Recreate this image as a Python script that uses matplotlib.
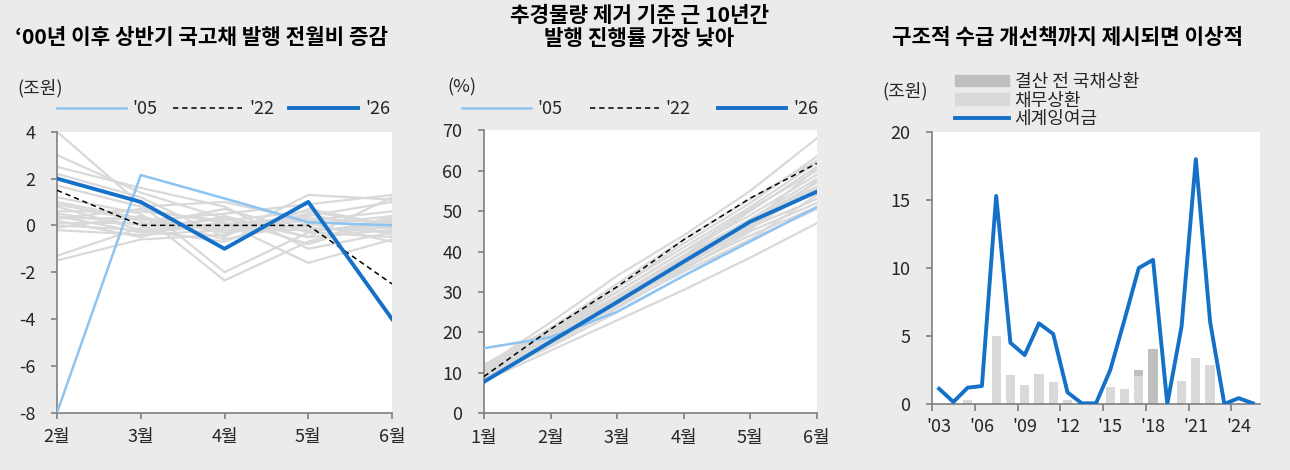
import matplotlib
matplotlib.use("Agg")
import matplotlib.pyplot as plt
from matplotlib.patches import Patch
from matplotlib.ticker import FixedLocator

plt.rcParams['font.family'] = ['Noto Sans CJK KR', 'DejaVu Sans']
plt.rcParams['axes.unicode_minus'] = False

# ---------------- data ----------------
# Panel 1: month-over-month change in H1 treasury issuance (trillion won)
p1_months = ['2월', '3월', '4월', '5월', '6월']
p1_05 = [-8.0, 2.15, 1.15, 0.13, 0.0]
p1_22 = [1.5, 0.0, 0.0, 0.0, -2.5]
p1_26 = [2.0, 1.0, -1.0, 1.0, -4.0]
p1_other = [
    [4.0, 0.9, -2.0, -0.3, 0.2],
    [3.0, 1.4, 0.3, -0.5, 1.2],
    [2.5, 1.6, 0.8, -1.0, -0.3],
    [2.2, 1.2, -0.5, 1.3, 1.1],
    [1.7, 0.8, 1.0, 0.2, -0.1],
    [1.2, 0.5, -2.35, -0.7, 0.4],
    [0.9, 0.2, 0.5, 0.9, 1.3],
    [0.6, 0.6, 0.2, 0.6, 0.0],
    [0.5, 0.0, 0.7, -0.3, -0.5],
    [0.4, -0.3, 0.0, 0.4, 1.0],
    [0.3, 0.3, -0.3, 0.0, 0.4],
    [0.2, -0.5, 0.4, -0.5, -0.2],
    [0.1, 0.1, -0.1, 0.3, 0.1],
    [0.0, -0.2, 0.1, -1.6, -0.6],
    [-0.1, 0.4, -0.6, 0.1, -0.7],
    [-0.2, -0.4, -0.2, -0.2, -0.1],
    [-1.3, -0.1, 0.3, -0.8, 0.3],
    [-1.5, -0.6, -0.4, 0.5, -0.4],
    [0.8, -0.2, -0.7, 0.7, 0.0],
    [0.3, 0.7, 0.1, -0.1, -0.3],
    [1.0, 0.3, -0.2, 0.2, 0.6],
]

# Panel 2: cumulative issuance progress rate (%)
p2_months = ['1월', '2월', '3월', '4월', '5월', '6월']
p2_05 = [16.1, 18.8, 25.1, 34.0, 42.5, 51.0]
p2_22 = [9.1, 20.8, 31.3, 42.9, 53.2, 61.8]
p2_26 = [7.8, 17.7, 27.5, 37.5, 47.4, 54.8]
p2_other = [
    [11.5, 22.5, 34.0, 44.0, 55.0, 68.0],
    [10.0, 20.0, 31.0, 42.0, 52.0, 63.5],
    [12.0, 21.0, 32.0, 43.0, 53.0, 62.5],
    [9.5, 19.0, 29.0, 39.0, 50.0, 61.0],
    [10.5, 20.0, 30.0, 40.0, 50.5, 60.0],
    [9.0, 18.5, 29.0, 38.5, 48.0, 58.0],
    [10.0, 19.5, 28.5, 38.0, 47.5, 57.0],
    [8.5, 17.5, 27.0, 37.0, 46.0, 55.5],
    [11.0, 19.0, 28.0, 37.5, 46.0, 53.0],
    [9.0, 17.0, 26.0, 35.5, 45.0, 52.0],
    [8.0, 15.5, 23.0, 30.5, 38.5, 47.0],
    [9.5, 18.0, 27.0, 36.0, 44.0, 51.0],
    [10.0, 18.0, 26.5, 35.0, 43.0, 54.0],
    [11.0, 20.5, 30.0, 40.0, 49.0, 59.0],
    [8.5, 16.5, 25.0, 34.0, 43.0, 50.5],
    [12.0, 20.0, 29.0, 39.0, 48.0, 56.0],
    [10.5, 19.0, 27.5, 36.5, 45.5, 57.5],
    [9.0, 18.0, 28.0, 38.0, 47.0, 60.5],
    [11.0, 21.0, 31.0, 41.0, 51.0, 62.0],
    [10.0, 19.0, 28.0, 37.0, 46.5, 56.0],
]

# Panel 3: fiscal surplus and its use (trillion won), 2003-2025
p3_years = list(range(2003, 2026))
p3_tick_labels = ["'03", "'06", "'09", "'12", "'15", "'18", "'21", "'24"]
p3_debt_repay = [0, 0, 0.32, 0, 5.02, 2.16, 1.40, 2.2, 1.6, 0.3, 0, 0,
                 1.25, 1.13, 2.03, 0, 0, 1.72, 3.36, 2.84, 0, 0, 0]
p3_early_repay = [0, 0, 0, 0, 0, 0, 0, 0, 0, 0, 0, 0,
                  0, 0, 0.49, 4.02, 0, 0, 0, 0, 0, 0, 0]
p3_surplus = [1.12, 0.15, 1.2, 1.32, 15.3, 4.5, 3.6, 5.93, 5.15, 0.86, 0.05, 0.05,
              2.5, 6.2, 10.0, 10.6, 0.0, 5.7, 18.0, 6.05, 0.0, 0.43, 0.05]

# ---------------- style ----------------
BG = '#EBEBEB'
GRAY_LINE = '#D9D9D9'
LIGHT_BLUE = '#8DC4F2'
BLUE = '#1570C8'
SPINE = '#7F7F7F'
TEXT = '#262626'
FS = 13
TITLE_FS = 15.3

W, H = 1290, 470
fig = plt.figure(figsize=(W / 100, H / 100), dpi=100, facecolor=BG)


def fx(px):
    return px / W


def fy(px):
    return (H - px) / H


def style_axes(ax, ypad=11.5, xpad=7):
    ax.set_facecolor('white')
    for s in ('top', 'right'):
        ax.spines[s].set_visible(False)
    for s in ('left', 'bottom'):
        ax.spines[s].set_color(SPINE)
        ax.spines[s].set_linewidth(1.2)
    ax.tick_params(axis='y', direction='out', length=4, width=1.2, color=SPINE,
                   labelsize=FS, labelcolor=TEXT, pad=ypad)
    ax.tick_params(axis='x', direction='out', length=4, width=1.2, color=SPINE,
                   labelsize=FS, labelcolor=TEXT, pad=xpad)


# Panel 1
ax1 = fig.add_axes([fx(57), fy(412.7), fx(335), 281 / H])
style_axes(ax1)
x1 = list(range(len(p1_months)))
for row in p1_other:
    ax1.plot(x1, row, color=GRAY_LINE, lw=1.6, zorder=1)
l05, = ax1.plot(x1, p1_05, color=LIGHT_BLUE, lw=1.8, zorder=3, label="'05")
l22, = ax1.plot(x1, p1_22, color='black', lw=1.1, ls=(0, (3.5, 2.5)), zorder=3, label="'22")
l26, = ax1.plot(x1, p1_26, color=BLUE, lw=2.8, zorder=4, label="'26")
ax1.set_xlim(0, len(p1_months) - 1)
ax1.set_ylim(-8, 4)
ax1.set_yticks(range(-8, 5, 2))
ax1.set_xticks(x1)
ax1.set_xticklabels(p1_months)
ax1.legend(handles=[l05, l22, l26], ncol=3, loc='center left',
           bbox_to_anchor=(fx(57), fy(109)), bbox_transform=fig.transFigure,
           frameon=False, fontsize=FS, handlelength=3.8, handletextpad=0.4,
           columnspacing=0.85, borderaxespad=0, borderpad=0, labelcolor=TEXT)
fig.text(fx(17), fy(88), '(조원)', fontsize=FS, color=TEXT, va='center', ha='left')
fig.text(fx(15), fy(37), '‘00년 이후 상반기 국고채 발행 전월비 증감',
         fontsize=TITLE_FS, fontweight='bold', color='black', va='center', ha='left')

# Panel 2
ax2 = fig.add_axes([fx(484), fy(413.3), fx(332.7), 283 / H])
style_axes(ax2)
x2 = list(range(len(p2_months)))
for row in p2_other:
    ax2.plot(x2, row, color=GRAY_LINE, lw=1.6, zorder=1)
m05, = ax2.plot(x2, p2_05, color=LIGHT_BLUE, lw=1.8, zorder=3, label="'05")
m22, = ax2.plot(x2, p2_22, color='black', lw=1.1, ls=(0, (3.5, 2.5)), zorder=3, label="'22")
m26, = ax2.plot(x2, p2_26, color=BLUE, lw=2.8, zorder=4, label="'26")
ax2.set_xlim(0, len(p2_months) - 1)
ax2.set_ylim(0, 70)
ax2.set_yticks(range(0, 71, 10))
ax2.set_xticks(x2)
ax2.set_xticklabels(p2_months)
ax2.legend(handles=[m05, m22, m26], ncol=3, loc='center left',
           bbox_to_anchor=(fx(462), fy(109)), bbox_transform=fig.transFigure,
           frameon=False, fontsize=FS, handlelength=3.8, handletextpad=0.4,
           columnspacing=1.5, borderaxespad=0, borderpad=0, labelcolor=TEXT)
fig.text(fx(447), fy(87), '(%)', fontsize=FS, color=TEXT, va='center', ha='left')
fig.text(fx(639), fy(27), '추경물량 제거 기준 근 10년간\n발행 진행률 가장 낮아',
         fontsize=TITLE_FS, fontweight='bold', color='black', va='center', ha='center',
         linespacing=1.1)

# Panel 3
ax3 = fig.add_axes([fx(932), fy(404), fx(328), 272 / H])
style_axes(ax3, xpad=10)
x3 = list(range(len(p3_years)))
ax3.bar(x3, p3_debt_repay, width=0.65, color='#D9D9D9', zorder=1, label='채무상환')
ax3.bar(x3, p3_early_repay, width=0.65, bottom=p3_debt_repay, color='#BFBFBF',
        zorder=1, label='결산 전 국채상환')
s_line, = ax3.plot(x3, p3_surplus, color=BLUE, lw=2.8, zorder=3, label='세계잉여금')
ax3.set_xlim(-0.5, len(p3_years) - 0.5)
ax3.set_ylim(0, 20)
ax3.set_yticks(range(0, 21, 5))
label_pos = [p3_years.index(2000 + int(t[1:])) for t in p3_tick_labels]
ax3.set_xticks(label_pos)
ax3.set_xticklabels(p3_tick_labels)
ax3.tick_params(axis='x', which='major', length=0)
ax3.xaxis.set_minor_locator(FixedLocator([p - 0.5 for p in label_pos]))
ax3.tick_params(axis='x', which='minor', direction='out', length=5, width=1.2, color=SPINE)
ax3.legend(handles=[Patch(color='#BFBFBF'), Patch(color='#D9D9D9'), s_line],
           labels=['결산 전 국채상환', '채무상환', '세계잉여금'],
           loc='upper left', bbox_to_anchor=(fx(955), fy(73)),
           bbox_transform=fig.transFigure, frameon=False, fontsize=FS,
           handlelength=3.0, handleheight=0.6, handletextpad=0.3, labelspacing=0.02,
           borderaxespad=0, borderpad=0, labelcolor=TEXT)
fig.text(fx(882), fy(91), '(조원)', fontsize=FS, color=TEXT, va='center', ha='left')
fig.text(fx(1067), fy(37), '구조적 수급 개선책까지 제시되면 이상적',
         fontsize=TITLE_FS, fontweight='bold', color='black', va='center', ha='center')

fig.savefig('out.png', dpi=100, facecolor=BG)
